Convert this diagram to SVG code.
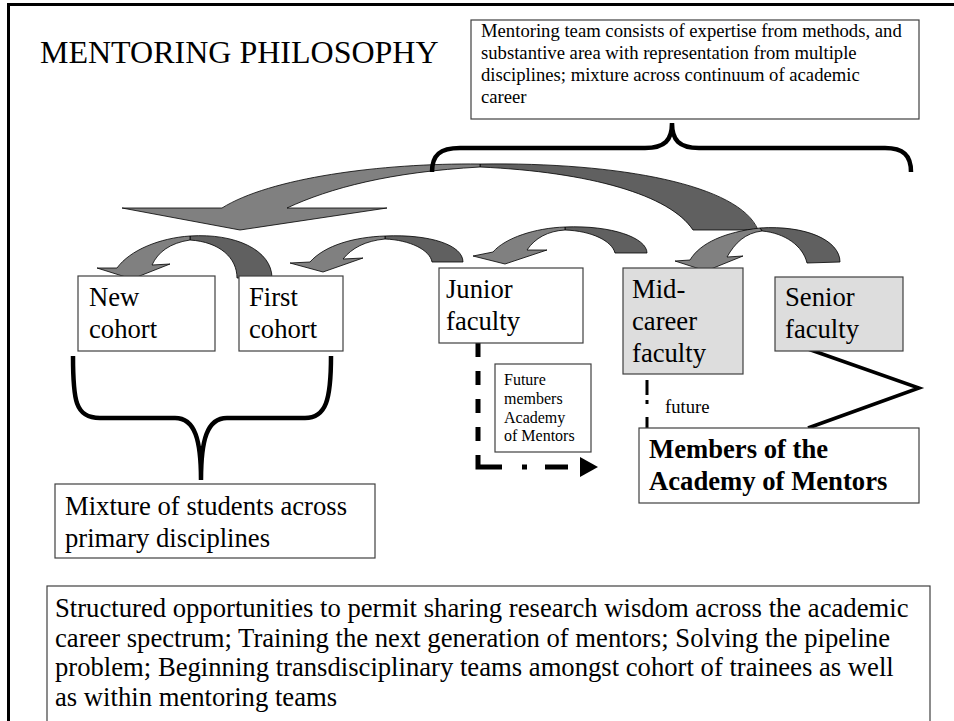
<svg xmlns="http://www.w3.org/2000/svg" width="954" height="721" viewBox="0 0 954 721">
<defs>
<style>
text{font-family:"Liberation Serif","DejaVu Serif","Times New Roman",serif;fill:#000}
.n{font-size:26.67px}
.box{fill:#fff;stroke:#404040;stroke-width:1.2}
.gbox{fill:#dddddd;stroke:#404040;stroke-width:1.2}
.lt{fill:#808080;stroke:#000;stroke-width:0.8;stroke-linejoin:miter}
.dk{fill:#606060;stroke:#000;stroke-width:0.8}
.brace{fill:none;stroke:#000;stroke-width:4.5}
</style>
</defs>
<rect width="954" height="721" fill="#fff"/>
<rect x="8.5" y="4.5" width="970" height="740" fill="none" stroke="#000" stroke-width="3"/>

<g id="title"><text font-family="Liberation Serif, serif" x="40" y="63" font-size="32">MENTORING PHILOSOPHY</text></g>

<g id="team-note">
<rect class="box" x="471" y="20" width="448" height="99"/>
<text font-family="Liberation Serif, serif" font-size="18.67"><tspan x="481" y="37">Mentoring team consists of expertise from methods, and</tspan><tspan x="481" y="59">substantive area with representation from multiple</tspan><tspan x="481" y="81">disciplines; mixture across continuum of academic</tspan><tspan x="481" y="103">career</tspan></text>
</g>

<g id="connectors">
<path class="dk" d="M480,164 C620,162 740,185 758,230 L693,230 C670,195 590,172 480,167 Z"/>
<path class="lt" d="M222,208 L122,208 L240,230 L387,208 L287,208 C330,188 390,172 480,167 L480,164 C380,163 270,178 222,208 Z"/>
<path class="dk" d="M190,236 C235,233 272,250 272,278 L237,278 C237,258 220,242 190,240 Z"/>
<path class="lt" d="M117,268 L97,268 L132,279 L170,264 L152,265 C158,252 170,243 190,240 L190,236 C160,238 130,250 117,268 Z"/>
<path class="dk" d="M385,236 C430,234 463,245 463,262 L432,262 C430,250 410,240 385,239 Z"/>
<path class="lt" d="M310,262 L290,263 L323,272 L363,258 L343,259 C352,248 365,241 385,239 L385,236 C355,237 325,245 310,262 Z"/>
<path class="dk" d="M565,227 C612,225 647,238 647,253 L615,253 C612,241 592,231 565,230 Z"/>
<path class="lt" d="M493,252 L473,256 L505,264 L547,250 L527,250 C535,238 548,231 565,230 L565,227 C535,228 505,238 493,252 Z"/>
<path class="dk" d="M760,228 C805,225 840,240 840,262 L807,263 C803,246 785,233 762,231 Z"/>
<path class="lt" d="M690,260 L675,261 L706,271 L743,256 L727,257 C735,243 745,233 762,231 L760,228 C725,232 700,243 690,260 Z"/>
<path class="brace" d="M432,172 C432,155 440,148 460,148 L645,148 C665,148 672,140 672,123 C672,140 679,148 699,148 L885,148 C903,148 911,155 911,172"/>
<path class="brace" d="M73,356 C73,400 75,418 100,418 L175,418 C195,418 201,440 201,480 C201,440 207,418 227,418 L305,418 C326,418 331,400 331,356"/>
<path d="M478,343 L478,455" fill="none" stroke="#000" stroke-width="5" stroke-dasharray="0,0,14,14"/>
<path d="M478,455 L478,467 L502,467 M522,467 L527,467 M545,467 L568,467" fill="none" stroke="#000" stroke-width="5"/>
<polygon points="580,457 598,467 580,477" fill="#000"/>
<path d="M647,380 L647,395 M647,400 L647,404 M647,417 L647,428" fill="none" stroke="#000" stroke-width="3"/>
<polyline points="808,349 919,388 808,428" fill="none" stroke="#000" stroke-width="3.5"/>
</g>

<g id="new-cohort">
<rect class="box" x="78" y="276" width="137" height="75"/>
<text class="n"><tspan x="89" y="306">New</tspan><tspan x="89" y="338">cohort</tspan></text>
</g>
<g id="first-cohort">
<rect class="box" x="239" y="276" width="104" height="75"/>
<text class="n"><tspan x="249" y="306">First</tspan><tspan x="249" y="338">cohort</tspan></text>
</g>
<g id="junior-faculty">
<rect class="box" x="439" y="268" width="144" height="75"/>
<text class="n"><tspan x="446" y="298">Junior</tspan><tspan x="446" y="330">faculty</tspan></text>
</g>
<g id="mid-career-faculty">
<rect class="gbox" x="623" y="268" width="120" height="106"/>
<text class="n"><tspan x="632" y="298">Mid-</tspan><tspan x="632" y="330">career</tspan><tspan x="632" y="362">faculty</tspan></text>
</g>
<g id="senior-faculty">
<rect class="gbox" x="775" y="277" width="128" height="74"/>
<text class="n"><tspan x="785" y="306">Senior</tspan><tspan x="785" y="338">faculty</tspan></text>
</g>
<g id="future-members">
<rect class="box" x="495" y="364" width="96" height="88"/>
<text font-size="16"><tspan x="504" y="385">Future</tspan><tspan x="504" y="404">members</tspan><tspan x="504" y="423">Academy</tspan><tspan x="504" y="441">of Mentors</tspan></text>
</g>
<g id="future-label"><text x="665" y="413" font-size="18.67">future</text></g>
<g id="academy-members">
<rect class="box" x="639" y="428" width="280" height="75"/>
<text class="n" font-weight="bold"><tspan x="649" y="458">Members of the</tspan><tspan x="649" y="490">Academy of Mentors</tspan></text>
</g>
<g id="mixture-students">
<rect class="box" x="55" y="484" width="320" height="74"/>
<text class="n"><tspan x="65" y="515">Mixture of students across</tspan><tspan x="65" y="547">primary disciplines</tspan></text>
</g>
<g id="summary">
<rect class="box" x="47" y="586" width="883" height="150"/>
<text class="n"><tspan x="55" y="617">Structured opportunities to permit sharing research wisdom across the academic</tspan><tspan x="55" y="647">career spectrum; Training the next generation of mentors; Solving the pipeline</tspan><tspan x="55" y="676">problem; Beginning transdisciplinary teams amongst cohort of trainees as well</tspan><tspan x="55" y="706">as within mentoring teams</tspan></text>
</g>
</svg>
